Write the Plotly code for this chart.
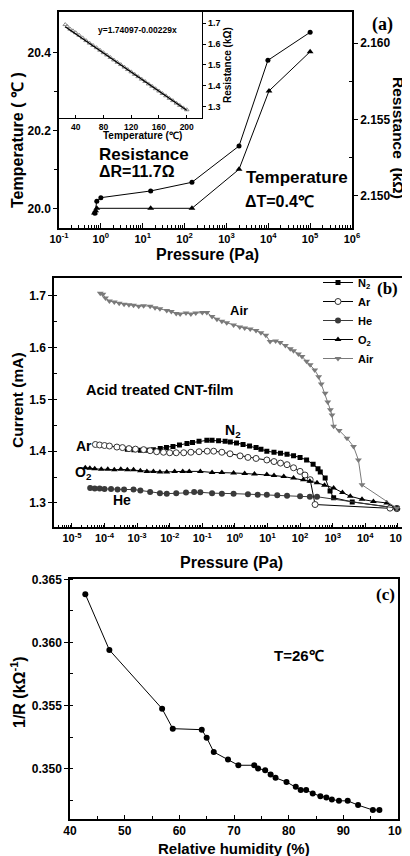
import numpy as np
import plotly.graph_objects as go

# page body adds an 8 px margin; the figure is sized so it fills the 410x856 window
OFF = 8
W, H = 410 - OFF, 856 - OFF
FONT = "Liberation Sans"
SERIF = "Liberation Serif"

# ---------------- Panel (a): main ----------------
a_res_p = [0.72, 0.80, 1.0, 15.5, 150, 2000, 9800, 1.0e5]
a_res_v = [2.14885, 2.14964, 2.14987, 2.15031, 2.15088, 2.15326, 2.15888, 2.16072]
a_tmp_p = [0.70, 0.75, 0.80, 15.5, 150, 2000, 1.04e4, 1.0e5]
a_tmp_v = [19.988, 19.994, 20.0, 20.0, 20.0, 20.10, 20.301, 20.4015]

# ---------------- Panel (a): inset ----------------
ins_t = [25, 28, 32, 36, 40, 45, 50, 55, 60, 65, 70, 75, 80, 85, 90, 95, 100, 105, 110,
         115, 120, 125, 130, 135, 140, 145, 150, 155, 160, 165, 170, 175, 180, 185, 190, 195, 200]
ins_r = [1.694, 1.685, 1.672, 1.664, 1.655, 1.643, 1.630, 1.617, 1.605, 1.594, 1.583, 1.571,
         1.559, 1.548, 1.536, 1.524, 1.513, 1.502, 1.490, 1.478, 1.467, 1.455, 1.444, 1.432,
         1.421, 1.409, 1.398, 1.386, 1.375, 1.363, 1.352, 1.340, 1.329, 1.317, 1.306, 1.294, 1.285]
fit_t = [25, 200]
fit_r = [1.6837, 1.2830]

# ---------------- Panel (b) ----------------
air_logp = [-4.13, -4.05, -3.97, -3.85, -3.70, -3.55, -3.40, -3.25, -3.11, -2.95, -2.80, -2.60,
            -2.45, -2.30, -2.09, -1.95, -1.80, -1.68, -1.50, -1.35, -1.20, -1.00, -0.86, -0.70,
            -0.55, -0.40, -0.25, -0.04, 0.15, 0.30, 0.47, 0.65, 0.80, 0.95, 1.08, 1.25, 1.39,
            1.55, 1.70, 1.80, 1.95, 2.06, 2.20, 2.31, 2.45, 2.57, 2.65, 2.77, 2.85, 2.93, 2.98,
            3.03, 3.20, 3.44, 3.64, 3.79, 3.90, 4.97]
air_i = [1.705, 1.703, 1.696, 1.690, 1.688, 1.686, 1.684, 1.683, 1.682, 1.680, 1.681, 1.680,
         1.677, 1.675, 1.672, 1.670, 1.666, 1.665, 1.667, 1.665, 1.667, 1.668, 1.668, 1.660,
         1.655, 1.651, 1.648, 1.644, 1.640, 1.638, 1.636, 1.633, 1.629, 1.624, 1.612, 1.613, 1.610,
         1.604, 1.598, 1.594, 1.588, 1.583, 1.574, 1.567, 1.557, 1.544, 1.530, 1.512, 1.495, 1.480, 1.470,
         1.448, 1.440, 1.425, 1.409, 1.383, 1.335, 1.290]

n2_logp = [-3.30, -3.10, -2.90, -2.70, -2.50, -2.29, -2.10, -1.90, -1.70, -1.47, -1.30, -1.10,
           -0.86, -0.70, -0.50, -0.30, -0.14, 0.05, 0.25, 0.45, 0.65, 0.80, 0.98, 1.20, 1.40,
           1.60, 1.80, 2.00, 2.20, 2.40, 2.55, 2.62, 2.77, 2.92, 3.03, 3.60, 4.97]
n2_i = [1.404, 1.403, 1.402, 1.402, 1.403, 1.405, 1.407, 1.409, 1.412, 1.415, 1.417, 1.419,
        1.421, 1.421, 1.420, 1.419, 1.418, 1.416, 1.413, 1.410, 1.407, 1.404, 1.400, 1.398, 1.396,
        1.394, 1.391, 1.388, 1.383, 1.375, 1.366, 1.360, 1.348, 1.323, 1.310, 1.302, 1.290]

ar_logp = [-4.28, -4.15, -4.00, -3.85, -3.62, -3.45, -3.25, -3.05, -2.80, -2.60, -2.40, -2.19,
           -2.00, -1.80, -1.57, -1.35, -1.10, -0.85, -0.65, -0.40, -0.15, 0.16, 0.40, 0.65, 0.98,
           1.20, 1.40, 1.60, 1.80, 2.00, 2.15, 2.31, 2.46, 4.76, 4.97]
ar_i = [1.413, 1.412, 1.411, 1.410, 1.408, 1.407, 1.405, 1.404, 1.403, 1.401, 1.399, 1.398,
        1.397, 1.397, 1.397, 1.398, 1.399, 1.400, 1.400, 1.398, 1.395, 1.391, 1.388, 1.386, 1.383,
        1.380, 1.377, 1.374, 1.368, 1.361, 1.354, 1.345, 1.297, 1.290, 1.289]

he_logp = [-4.44, -4.30, -4.15, -4.00, -3.80, -3.60, -3.40, -3.11, -2.90, -2.60, -2.30, -2.09,
           -1.80, -1.50, -1.25, -1.06, -0.70, -0.40, -0.04, 0.40, 0.70, 0.98, 1.30, 1.60, 2.00,
           2.30, 2.52, 4.97]
he_i = [1.329, 1.328, 1.328, 1.327, 1.327, 1.326, 1.326, 1.326, 1.324, 1.321, 1.319, 1.318,
        1.319, 1.320, 1.321, 1.3206, 1.319, 1.318, 1.318, 1.317, 1.316, 1.316, 1.315, 1.314, 1.313,
        1.312, 1.312, 1.290]

o2_logp = [-4.59, -4.45, -4.30, -4.10, -3.90, -3.70, -3.50, -3.30, -3.11, -2.90, -2.70, -2.50,
           -2.30, -2.09, -1.85, -1.60, -1.40, -1.06, -0.70, -0.40, -0.04, 0.30, 0.60, 0.98, 1.20,
           1.50, 1.80, 2.10, 2.30, 2.52, 2.75, 3.03, 3.30, 3.54, 3.90, 4.25, 4.66, 4.97]
o2_i = [1.368, 1.367, 1.366, 1.365, 1.365, 1.364, 1.365, 1.364, 1.364, 1.362, 1.361, 1.361,
        1.360, 1.360, 1.361, 1.361, 1.361, 1.361, 1.359, 1.359, 1.358, 1.357, 1.356, 1.355, 1.353,
        1.351, 1.348, 1.345, 1.342, 1.339, 1.334, 1.329, 1.320, 1.313, 1.307, 1.303, 1.300, 1.290]

# ---------------- Panel (c) ----------------
c_rh = [42.8, 47.2, 56.85, 58.8, 64.1, 65.0, 66.3, 68.9, 70.8, 73.7, 74.4, 75.7, 76.7, 77.6,
        79.6, 81.3, 82.2, 83.2, 84.4, 85.8, 86.9, 87.9, 89.2, 90.8, 92.7, 95.4, 96.6]
c_inv = [0.36382, 0.35940, 0.35474, 0.35316, 0.35308, 0.35245, 0.35131, 0.35071, 0.35026,
         0.35026, 0.35000, 0.34987, 0.34953, 0.34926, 0.34894, 0.34855, 0.34829, 0.34829,
         0.34803, 0.34781, 0.34771, 0.34755, 0.34744, 0.34744, 0.34710, 0.34671, 0.34671]


def P(v):
    return [10 ** e for e in v]


def fx(x):
    return (x - OFF) / W


def fy(y):
    return 1 - (y - OFF) / H


def dx(a, b):
    return [fx(a), fx(b)]


def dy(top, bottom):
    return [fy(bottom), fy(top)]


def tf(size):
    return dict(family=FONT, size=size, color="black", weight="bold")


def log_ticks(lo, hi):
    vals = [10.0 ** k for k in range(lo, hi + 1)]
    text = ["10<sup>%d</sup>" % k for k in range(lo, hi + 1)]
    minors = [m * 10.0 ** k for k in range(lo - 1, hi + 1) for m in range(2, 10)]
    return vals, text, minors


fig = go.Figure()

# (a) traces
fig.add_trace(go.Scatter(x=a_res_p, y=a_res_v, mode="lines+markers", xaxis="x", yaxis="y2",
                         line=dict(color="black", width=1),
                         marker=dict(symbol="circle", size=5, color="black"), showlegend=False))
fig.add_trace(go.Scatter(x=a_tmp_p, y=a_tmp_v, mode="lines+markers", xaxis="x", yaxis="y",
                         line=dict(color="black", width=1),
                         marker=dict(symbol="triangle-up", size=6, color="black"), showlegend=False))
# inset
fig.add_trace(go.Scatter(x=ins_t, y=ins_r, mode="markers", xaxis="x3", yaxis="y3",
                         marker=dict(symbol="triangle-up-open", size=4, color="#888888",
                                     line=dict(width=1)), showlegend=False))
fig.add_trace(go.Scatter(x=fit_t, y=fit_r, mode="lines", xaxis="x3", yaxis="y3",
                         line=dict(color="black", width=1.3), showlegend=False))

# (b) traces
fig.add_trace(go.Scatter(x=P(n2_logp), y=n2_i, mode="lines+markers", xaxis="x4", yaxis="y4",
                         name="N<sub>2</sub>", line=dict(color="black", width=1),
                         marker=dict(symbol="square", size=5, color="black")))
fig.add_trace(go.Scatter(x=P(ar_logp), y=ar_i, mode="lines+markers", xaxis="x4", yaxis="y4",
                         name="Ar", line=dict(color="black", width=1),
                         marker=dict(symbol="circle", size=6, color="white",
                                     line=dict(color="#333333", width=1))))
fig.add_trace(go.Scatter(x=P(he_logp), y=he_i, mode="lines+markers", xaxis="x4", yaxis="y4",
                         name="He", line=dict(color="#3a3a3a", width=1),
                         marker=dict(symbol="circle", size=6, color="#3a3a3a")))
fig.add_trace(go.Scatter(x=P(o2_logp), y=o2_i, mode="lines+markers", xaxis="x4", yaxis="y4",
                         name="O<sub>2</sub>", line=dict(color="black", width=1),
                         marker=dict(symbol="triangle-up", size=6, color="black")))
fig.add_trace(go.Scatter(x=P(air_logp), y=air_i, mode="lines+markers", xaxis="x4", yaxis="y4",
                         name="Air", line=dict(color="#7a7a7a", width=1),
                         marker=dict(symbol="triangle-down", size=6, color="#7a7a7a")))

# (c) trace
fig.add_trace(go.Scatter(x=c_rh, y=c_inv, mode="lines+markers", xaxis="x5", yaxis="y5",
                         line=dict(color="black", width=1),
                         marker=dict(symbol="circle", size=6, color="black"), showlegend=False))

base = dict(showline=True, linecolor="black", linewidth=1.5, showgrid=False, zeroline=False,
            tickcolor="black", tickwidth=1.2, automargin=False)

a_vals, a_text, a_min = log_ticks(-1, 6)
b_vals, b_text, b_min = log_ticks(-5, 5)

layout = dict(
    template="none",
    width=W, height=H, margin=dict(l=0, r=0, t=0, b=0, pad=0), autosize=False,
    paper_bgcolor="white", plot_bgcolor="white",
    # (a)
    xaxis=dict(base, domain=dx(59, 352), type="log", range=[-1, 6], anchor="y", mirror=True,
               tickmode="array", tickvals=a_vals, ticktext=a_text, ticks="inside", ticklen=5,
               tickfont=tf(11),
               minor=dict(tickvals=a_min, ticks="inside", ticklen=3, tickcolor="black")),
    yaxis=dict(base, domain=dy(12.3, 228), range=[19.9495, 20.5026], anchor="x",
               tickmode="array", tickvals=[20.0, 20.2, 20.4], ticktext=["20.0", "20.2", "20.4"],
               ticks="outside", ticklen=4, tickfont=tf(12),
               minor=dict(tickvals=[20.1, 20.3], ticks="outside", ticklen=3, tickcolor="black")),
    yaxis2=dict(base, overlaying="y", side="right", anchor="x", range=[2.14788, 2.16203],
                tickmode="array", tickvals=[2.150, 2.155, 2.160], ticktext=["2.150", "2.155", "2.160"],
                ticks="outside", ticklen=4, tickfont=tf(12),
                minor=dict(tickvals=[2.1525, 2.1575], ticks="inside", ticklen=3, tickcolor="black")),
    # inset
    xaxis3=dict(base, domain=dx(59, 202), range=[16, 222], anchor="y3", mirror=True,
                tickvals=[40, 80, 120, 160, 200], ticks="inside", ticklen=3, tickfont=tf(8.5),
                linewidth=1.3),
    yaxis3=dict(base, domain=dy(12.3, 118.3), range=[1.244, 1.753], anchor="x3", side="right",
                mirror=True, tickvals=[1.3, 1.4, 1.5, 1.6, 1.7], ticks="outside", ticklen=3,
                tickfont=tf(9), linewidth=1.3),
    # (b)
    xaxis4=dict(base, domain=dx(54, 406), type="log", range=[-5.55, 5.25], anchor="y4", mirror=True,
                tickmode="array", tickvals=b_vals, ticktext=b_text, ticks="inside", ticklen=5,
                tickfont=tf(11),
                minor=dict(tickvals=b_min, ticks="inside", ticklen=3, tickcolor="black")),
    yaxis4=dict(base, domain=dy(278.3, 527.3), range=[1.253, 1.734], anchor="x4", mirror=True,
                tickvals=[1.3, 1.4, 1.5, 1.6, 1.7], ticktext=["1.3", "1.4", "1.5", "1.6", "1.7"],
                ticks="outside", ticklen=4, tickfont=tf(12),
                minor=dict(dtick=0.05, ticks="inside", ticklen=3, tickcolor="black")),
    # (c)
    xaxis5=dict(base, domain=dx(70, 398), range=[40, 100], anchor="y5", mirror=True,
                tickvals=[40, 50, 60, 70, 80, 90, 100], ticks="inside", ticklen=4, tickfont=tf(12),
                minor=dict(dtick=5, ticks="inside", ticklen=3, tickcolor="black")),
    yaxis5=dict(base, domain=dy(579.3, 819), range=[0.346, 0.365], anchor="x5", mirror=True,
                tickvals=[0.350, 0.355, 0.360, 0.365],
                ticktext=["0.350", "0.355", "0.360", "0.365"],
                ticks="outside", ticklen=4, tickfont=tf(12),
                minor=dict(dtick=0.0025, ticks="inside", ticklen=3, tickcolor="black")),
    showlegend=True,
    legend=dict(x=fx(318), y=fy(268), xanchor="left", yanchor="top",
                bgcolor="rgba(0,0,0,0)", font=tf(11), tracegroupgap=0, itemwidth=30),
)
fig.update_layout(**layout)


def ann(text, x, y, size, family=FONT, angle=0, xanchor="center", yanchor="middle"):
    return dict(text=text, x=fx(x), y=fy(y), xref="paper", yref="paper", showarrow=False,
                xanchor=xanchor, yanchor=yanchor, textangle=angle,
                font=dict(family=family, size=size, color="black", weight="bold"))


annotations = [
    # (a)
    ann("(a)", 382, 25, 18, family=SERIF),
    ann("Resistance", 144, 154, 17),
    ann("ΔR=11.7Ω", 137, 171, 16),
    ann("Temperature", 297, 177, 17),
    ann("ΔT=0.4℃", 279, 202, 16),
    ann("Pressure (Pa)", 207, 255, 16),
    ann("Temperature ( ℃ )", 17, 140, 16, angle=-90),
    ann("Resistance  (kΩ)", 399, 138, 15.5, angle=90),
    ann("y=1.74097-0.00229x", 137, 30, 8.5),
    ann("Temperature (℃)", 142, 135, 10),
    ann("Resistance (kΩ)", 227, 65, 10, angle=-90),
    # (b)
    ann("(b)", 387, 288, 17, family=SERIF),
    ann("Air", 239, 310, 13),
    ann("Acid treated CNT-film", 159, 390, 14.5),
    ann("N<sub>2</sub>", 233, 431, 14),
    ann("Ar", 84, 446, 14),
    ann("O<sub>2</sub>", 83, 473, 14),
    ann("He", 122, 500, 14),
    ann("Current (mA)", 17, 400, 15.5, angle=-90),
    ann("Pressure (Pa)", 231, 562, 16),
    # (c)
    ann("(c)", 385, 594, 17, family=SERIF),
    ann("T=26℃", 299, 655, 15),
    ann("1/R (kΩ<sup>-1</sup>)", 18, 692, 16, angle=-90),
    ann("Relative humidity (%)", 234, 848, 15),
]
fig.update_layout(annotations=annotations)

fig.write_html("out.html")
